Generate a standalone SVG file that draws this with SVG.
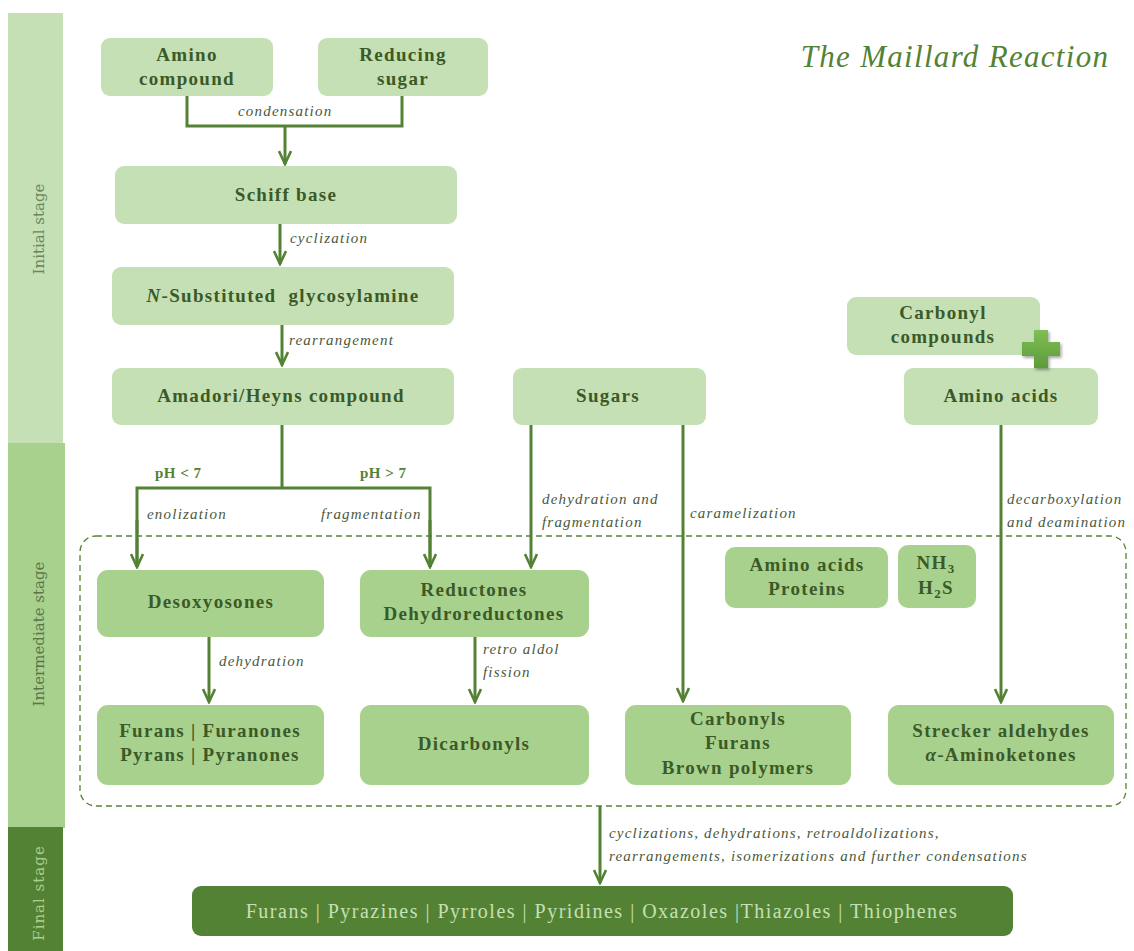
<svg xmlns="http://www.w3.org/2000/svg" width="1134" height="951" viewBox="0 0 1134 951">
<defs>
<style>
.n1{fill:#c5e0b4}
.n2{fill:#a9d18e}
.t{font-family:"Liberation Serif",serif;font-weight:bold;font-size:19px;fill:#3b5a27;text-anchor:middle;letter-spacing:1.3px}
.lb{font-family:"Liberation Serif",serif;font-style:italic;font-size:15px;fill:#4a5840;letter-spacing:1.2px}
.ph{font-family:"Liberation Serif",serif;font-weight:bold;font-size:15px;fill:#548235;letter-spacing:0.5px}
.c{fill:none;stroke:#548235;stroke-width:3}
.st{font-family:"DejaVu Serif",serif;font-size:15px;text-anchor:middle}
</style>
<marker id="ah" viewBox="0 0 16 14" refX="14" refY="7" markerWidth="16" markerHeight="14" markerUnits="userSpaceOnUse" orient="auto">
<path d="M1,1 L14,7 L1,13" fill="none" stroke="#548235" stroke-width="2.6"/>
</marker>
<filter id="sh" x="-30%" y="-30%" width="160%" height="160%">
<feDropShadow dx="1.5" dy="2" stdDeviation="1.5" flood-color="#000" flood-opacity="0.35"/>
</filter>
<linearGradient id="pg" x1="0" y1="0" x2="0" y2="1">
<stop offset="0" stop-color="#7fbf54"/>
<stop offset="1" stop-color="#5e9a3b"/>
</linearGradient>
</defs>

<g id="stages">
<rect x="8" y="13" width="55" height="431" fill="#c5e0b4"/>
<rect x="8" y="443" width="57" height="385" fill="#a9d18e"/>
<rect x="8" y="827" width="55" height="124" fill="#548235"/>
<text class="st" transform="translate(44,229) rotate(-90)" fill="#6a865a">Initial stage</text>
<text class="st" transform="translate(44,634) rotate(-90)" fill="#5a7548">Intermediate stage</text>
<text class="st" transform="translate(44,893) rotate(-90)" fill="#a9d18e" letter-spacing="1">Final stage</text>
</g>

<text id="title" x="955" y="67" text-anchor="middle" font-family="Liberation Serif, serif" font-style="italic" font-size="31" fill="#548235" letter-spacing="1.3">The Maillard  Reaction</text>

<g id="dashed-box">
<rect x="80" y="536" width="1046" height="270" rx="16" fill="none" stroke="#548235" stroke-width="1.3" stroke-dasharray="6,4"/>
</g>

<g id="connectors">
<path class="c" d="M187,96 V126 H402 V96"/>
<path class="c" d="M285,126 V164" marker-end="url(#ah)"/>
<path class="c" d="M280,224 V264" marker-end="url(#ah)"/>
<path class="c" d="M282,325 V365" marker-end="url(#ah)"/>
<path class="c" d="M282,425 V488"/>
<path class="c" d="M137,567 V488 H430 V567"/>
<path class="c" d="M137,520 V567" marker-end="url(#ah)"/>
<path class="c" d="M430,520 V567" marker-end="url(#ah)"/>
<path class="c" d="M531,425 V567" marker-end="url(#ah)"/>
<path class="c" d="M683,425 V701" marker-end="url(#ah)"/>
<path class="c" d="M1001,425 V702" marker-end="url(#ah)"/>
<path class="c" d="M209,637 V702" marker-end="url(#ah)"/>
<path class="c" d="M475,637 V702" marker-end="url(#ah)"/>
<path class="c" d="M600,806 V883" marker-end="url(#ah)"/>
<text class="lb" x="238" y="116">condensation</text>
<text class="lb" x="290" y="243">cyclization</text>
<text class="lb" x="289" y="345">rearrangement</text>
<text class="ph" x="155" y="478">pH &lt; 7</text>
<text class="ph" x="360" y="478">pH &gt; 7</text>
<text class="lb" x="147" y="519">enolization</text>
<text class="lb" x="321" y="519">fragmentation</text>
<text class="lb" x="542" y="504">dehydration and</text>
<text class="lb" x="542" y="527">fragmentation</text>
<text class="lb" x="690" y="518">caramelization</text>
<text class="lb" x="1007" y="504">decarboxylation</text>
<text class="lb" x="1007" y="527">and deamination</text>
<text class="lb" x="219" y="666">dehydration</text>
<text class="lb" x="483" y="654">retro aldol</text>
<text class="lb" x="483" y="677">fission</text>
<text class="lb" x="609" y="838">cyclizations, dehydrations, retroaldolizations,</text>
<text class="lb" x="609" y="861">rearrangements, isomerizations and further condensations</text>
</g>

<g id="amino-compound"><rect class="n1" x="101" y="38" width="172" height="58" rx="9"/><text class="t" x="187" y="61">Amino</text><text class="t" x="187" y="85">compound</text></g>
<g id="reducing-sugar"><rect class="n1" x="318" y="38" width="170" height="58" rx="9"/><text class="t" x="403" y="61">Reducing</text><text class="t" x="403" y="85">sugar</text></g>
<g id="schiff-base"><rect class="n1" x="115" y="166" width="342" height="58" rx="9"/><text class="t" x="286" y="201">Schiff base</text></g>
<g id="glycosylamine"><rect class="n1" x="112" y="267" width="342" height="58" rx="9"/><text class="t" x="283" y="302"><tspan font-style="italic">N</tspan>-Substituted&#160; glycosylamine</text></g>
<g id="amadori"><rect class="n1" x="112" y="368" width="342" height="57" rx="9"/><text class="t" x="281" y="402">Amadori/Heyns compound</text></g>
<g id="sugars"><rect class="n1" x="513" y="368" width="193" height="57" rx="9"/><text class="t" x="608" y="402">Sugars</text></g>
<g id="carbonyl-compounds"><rect class="n1" x="847" y="297" width="193" height="58" rx="9"/><text class="t" x="943" y="319">Carbonyl</text><text class="t" x="943" y="343">compounds</text></g>
<g id="amino-acids"><rect class="n1" x="904" y="368" width="194" height="57" rx="9"/><text class="t" x="1001" y="402">Amino acids</text></g>
<g id="plus"><path d="M1034,330 H1048 V342 H1060 V356 H1048 V368 H1034 V356 H1022 V342 H1034 Z" fill="url(#pg)" filter="url(#sh)"/></g>

<g id="desoxyosones"><rect class="n2" x="97" y="570" width="227" height="67" rx="11"/><text class="t" x="211" y="608">Desoxyosones</text></g>
<g id="reductones"><rect class="n2" x="360" y="570" width="229" height="67" rx="11"/><text class="t" x="474" y="596">Reductones</text><text class="t" x="474" y="620">Dehydroreductones</text></g>
<g id="amino-acids-proteins"><rect class="n2" x="725" y="547" width="163" height="61" rx="10"/><text class="t" x="807" y="571">Amino acids</text><text class="t" x="807" y="595">Proteins</text></g>
<g id="nh3-h2s"><rect class="n2" x="898" y="545" width="78" height="63" rx="10"/><text class="t" x="936" y="569">NH<tspan font-size="13" dy="4">3</tspan></text><text class="t" x="936" y="594">H<tspan font-size="13" dy="4">2</tspan><tspan dy="-4">S</tspan></text></g>
<g id="furans-pyrans"><rect class="n2" x="97" y="705" width="227" height="80" rx="11"/><text class="t" x="210" y="737">Furans | Furanones</text><text class="t" x="210" y="761">Pyrans | Pyranones</text></g>
<g id="dicarbonyls"><rect class="n2" x="360" y="705" width="229" height="80" rx="11"/><text class="t" x="474" y="750">Dicarbonyls</text></g>
<g id="carbonyls-furans"><rect class="n2" x="625" y="705" width="226" height="80" rx="11"/><text class="t" x="738" y="725">Carbonyls</text><text class="t" x="738" y="749">Furans</text><text class="t" x="738" y="774">Brown polymers</text></g>
<g id="strecker"><rect class="n2" x="888" y="705" width="226" height="80" rx="11"/><text class="t" x="1001" y="737">Strecker aldehydes</text><text class="t" x="1001" y="761"><tspan font-style="italic">α</tspan>-Aminoketones</text></g>

<g id="final-products"><rect x="192" y="886" width="821" height="50" rx="9" fill="#548235"/><text x="602" y="918" text-anchor="middle" font-family="Liberation Serif, serif" font-size="20" fill="#c5e0b4" letter-spacing="1.5">Furans | Pyrazines | Pyrroles | Pyridines | Oxazoles |Thiazoles | Thiophenes</text></g>
</svg>
